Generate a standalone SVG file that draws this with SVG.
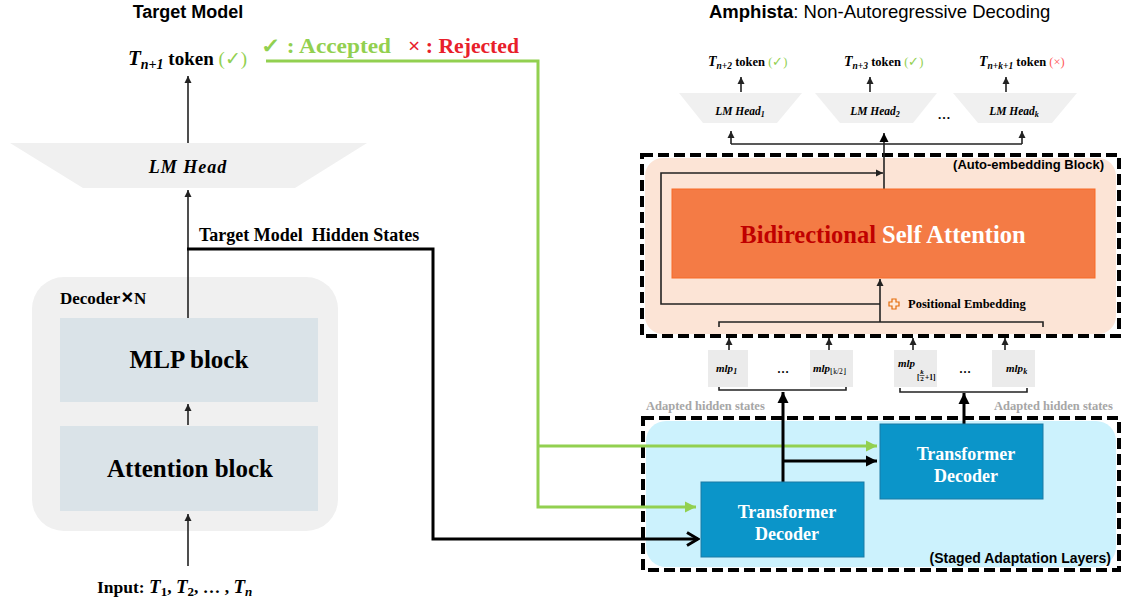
<svg xmlns="http://www.w3.org/2000/svg" width="1126" height="601" viewBox="0 0 1126 601">
<style>
  .sf{font-family:"Liberation Serif","Times New Roman",serif;font-weight:bold}
  .ss{font-family:"Liberation Sans",Arial,sans-serif}
  .it{font-style:italic}
  .thin{stroke:#222;stroke-width:1.6;fill:none}
  .thick{stroke:#000;stroke-width:3;fill:none}
  .green{stroke:#92d050;stroke-width:3;fill:none}
  .dash{fill:none;stroke:#000;stroke-width:4;stroke-dasharray:11 5}
  .head{fill:#f0f0f0}
  .mlp{fill:#ebebeb}
  .td{fill:#0b95c9;stroke:#1a7aa5;stroke-width:1}
  .tdt{fill:#fff;font-size:18px}
  .gray{fill:#a6a6a6;font-size:12.5px}
</style>
<defs>
  <marker id="aThin" markerUnits="userSpaceOnUse" markerWidth="8" markerHeight="8" refX="7" refY="4" orient="auto">
    <path d="M0,0.5 L7,4 L0,7.5 z" fill="#222"/>
  </marker>
  <marker id="aMid" markerUnits="userSpaceOnUse" markerWidth="10" markerHeight="10" refX="9" refY="5" orient="auto">
    <path d="M0,0.5 L9,5 L0,9.5 z" fill="#000"/>
  </marker>
  <marker id="aThick" markerUnits="userSpaceOnUse" markerWidth="12" markerHeight="12" refX="11" refY="6" orient="auto">
    <path d="M0,0.5 L11,6 L0,11.5 z" fill="#000"/>
  </marker>
  <marker id="aGreen" markerUnits="userSpaceOnUse" markerWidth="12" markerHeight="12" refX="11" refY="6" orient="auto">
    <path d="M0,0.5 L11,6 L0,11.5 z" fill="#92d050"/>
  </marker>
  <marker id="aChevron" markerUnits="userSpaceOnUse" markerWidth="14" markerHeight="16" refX="12" refY="8" orient="auto">
    <path d="M1,1.5 L12,8 L1,14.5" fill="none" stroke="#000" stroke-width="3"/>
  </marker>
</defs>
<rect width="1126" height="601" fill="#fff"/>

<!-- titles -->
<text class="ss" x="188" y="18" font-size="18" font-weight="bold" text-anchor="middle">Target Model</text>
<text class="ss" x="709" y="18" font-size="18.5"><tspan font-weight="bold">Amphista</tspan>: Non-Autoregressive Decoding</text>
<text class="sf" x="261" y="53" font-size="21" fill="#92d050" textLength="130" lengthAdjust="spacingAndGlyphs">✓ : Accepted</text>
<text class="sf" x="408" y="53" font-size="21" fill="#e8202a" textLength="111" lengthAdjust="spacingAndGlyphs">× : Rejected</text>

<!-- containers -->
<g id="decoder-stack">
  <rect x="32" y="277" width="306" height="254" rx="32" fill="#f0f0f0"/>
  <text class="sf" x="60" y="304" font-size="17">Decoder<tspan class="ss" font-size="20" dx="1">×</tspan><tspan dx="1">N</tspan></text>
</g>
<g id="auto-embedding-block">
  <rect x="645" y="158" width="471" height="176" rx="18" fill="#fce4d6"/>
  <rect class="dash" x="642" y="155" width="477" height="181"/>
  <text class="ss" x="1104" y="169" font-size="13" font-weight="bold" text-anchor="end">(Auto-embedding Block)</text>
</g>
<g id="staged-adaptation-layers">
  <rect x="646" y="421" width="470" height="146" rx="20" fill="#ccf2fd"/>
  <rect class="dash" x="643" y="418" width="476" height="152"/>
  <text class="ss" x="1111" y="563" font-size="14" font-weight="bold" text-anchor="end">(Staged Adaptation Layers)</text>
</g>

<!-- connectors -->
<g id="connectors">
  <path class="thin" d="M188,566 V514" marker-end="url(#aThin)"/>
  <path class="thin" d="M188,425 V404" marker-end="url(#aThin)"/>
  <path class="thin" d="M188,318 V190" marker-end="url(#aThin)"/>
  <path class="thin" d="M188,143 V76" marker-end="url(#aThin)"/>
  <path class="thick" d="M187,249 H433 V539 H698" marker-end="url(#aChevron)"/>
  <path class="green" d="M266,61 H538 V507 H696" marker-end="url(#aGreen)"/>
  <path class="green" d="M538,446 H877" marker-end="url(#aGreen)"/>
  <path class="thick" d="M783,482 V392" marker-end="url(#aThick)"/>
  <path class="thick" d="M783,461 H877" marker-end="url(#aThick)"/>
  <path class="thick" d="M964,424 V393" marker-end="url(#aThick)"/>
  <path class="thin" d="M719,386 V390 H846 V386"/>
  <path class="thin" d="M900,388 V392 H1027 V388"/>
  <path class="thin" d="M729,350 V338" marker-end="url(#aThin)"/>
  <path class="thin" d="M829,350 V338" marker-end="url(#aThin)"/>
  <path class="thin" d="M913,350 V338" marker-end="url(#aThin)"/>
  <path class="thin" d="M1005,350 V338" marker-end="url(#aThin)"/>
  <path class="thin" d="M719,327 V322 H1043 V327"/>
  <path class="thin" d="M880,322 V279" marker-end="url(#aThin)"/>
  <path class="thin" d="M880,304 H661 V173 H883" marker-end="url(#aThin)"/>
  <path class="thin" d="M884,189 V133" stroke-width="2" marker-end="url(#aMid)"/>
  <path class="thin" d="M731,144 H1022"/>
  <path class="thin" d="M731,144 V131" marker-end="url(#aThin)"/>
  <path class="thin" d="M1022,144 V131" marker-end="url(#aThin)"/>
  <path class="thin" d="M741,92 V77" marker-end="url(#aThin)"/>
  <path class="thin" d="M870,92 V77" marker-end="url(#aThin)"/>
  <path class="thin" d="M1006,92 V77" marker-end="url(#aThin)"/>
</g>

<!-- target model column -->
<g id="target-token">
  <text class="sf" x="128" y="65" font-size="19"><tspan class="it" font-size="21">T</tspan><tspan class="it" font-size="14" dy="4">n+1</tspan><tspan dy="-4"> token </tspan><tspan fill="#92d050" font-weight="normal">(✓)</tspan></text>
</g>
<g id="lm-head">
  <polygon class="head" points="10,143 367,143 295,188 83,188"/>
  <text class="sf it" x="188" y="173" font-size="18" text-anchor="middle" letter-spacing="1">LM Head</text>
</g>
<text class="sf" x="199" y="241" font-size="18" xml:space="preserve">Target Model  Hidden States</text>
<g id="mlp-block">
  <rect x="60" y="318" width="258" height="84" fill="#dae3e8"/>
  <text class="sf" x="189" y="368" font-size="25" text-anchor="middle">MLP block</text>
</g>
<g id="attention-block">
  <rect x="60" y="426" width="258" height="85" fill="#dae3e8"/>
  <text class="sf" x="190" y="477" font-size="25" text-anchor="middle">Attention block</text>
</g>
<g id="input">
  <text class="sf" x="97" y="593" font-size="17.5">Input: <tspan class="it" font-size="19">T</tspan><tspan font-size="13" dy="3">1</tspan><tspan dy="-3">, </tspan><tspan class="it" font-size="19">T</tspan><tspan font-size="13" dy="3">2</tspan><tspan dy="-3">, … , </tspan><tspan class="it" font-size="19">T</tspan><tspan class="it" font-size="13" dy="3">n</tspan></text>
</g>

<!-- draft heads -->
<g id="token-2">
  <text class="sf" x="708" y="66" font-size="12.5"><tspan class="it" font-size="14">T</tspan><tspan class="it" font-size="9.5" dy="3">n+2</tspan><tspan dy="-3"> token </tspan><tspan fill="#92d050" font-weight="normal">(✓)</tspan></text>
</g>
<g id="token-3">
  <text class="sf" x="844" y="66" font-size="12.5"><tspan class="it" font-size="14">T</tspan><tspan class="it" font-size="9.5" dy="3">n+3</tspan><tspan dy="-3"> token </tspan><tspan fill="#92d050" font-weight="normal">(✓)</tspan></text>
</g>
<g id="token-k">
  <text class="sf" x="979" y="66" font-size="12.5"><tspan class="it" font-size="14">T</tspan><tspan class="it" font-size="9.5" dy="3">n+k+1</tspan><tspan dy="-3"> token </tspan><tspan fill="#ff5a5a" font-weight="normal">(×)</tspan></text>
</g>
<g id="lm-head-1">
  <polygon class="head" points="679,93 802,93 777,123 703,123"/>
  <text class="sf it" x="740" y="115" font-size="11.5" text-anchor="middle">LM Head<tspan font-size="8" dy="2">1</tspan></text>
</g>
<g id="lm-head-2">
  <polygon class="head" points="815,93 937,93 913,123 840,123"/>
  <text class="sf it" x="875" y="115" font-size="11.5" text-anchor="middle">LM Head<tspan font-size="8" dy="2">2</tspan></text>
</g>
<text class="sf" x="944" y="119" font-size="13" text-anchor="middle">…</text>
<g id="lm-head-k">
  <polygon class="head" points="953,93 1077,93 1052,123 978,123"/>
  <text class="sf it" x="1014" y="115" font-size="11.5" text-anchor="middle">LM Head<tspan font-size="8" dy="2">k</tspan></text>
</g>

<!-- auto-embedding internals -->
<g id="self-attention">
  <rect x="672" y="189" width="423" height="89" fill="#f47b45" stroke="#f86a26" stroke-width="1"/>
  <text class="sf" x="883" y="243" font-size="24.5" text-anchor="middle"><tspan fill="#c00000">Bidirectional</tspan><tspan fill="#fff"> Self Attention</tspan></text>
</g>
<g id="positional-embedding">
  <polygon points="892,299 896,299 896,302 899,302 899,306 896,306 896,309 892,309 892,306 889,306 889,302 892,302" fill="#fde9d9" stroke="#e46c0a" stroke-width="1.2"/>
  <text class="sf" x="908" y="308" font-size="12.5">Positional Embedding</text>
</g>

<!-- adapter mlps -->
<g id="mlp-1">
  <rect class="mlp" x="708" y="350" width="40" height="37"/>
  <text class="sf it" x="716" y="372" font-size="11">mlp<tspan font-size="8" dy="2">1</tspan></text>
</g>
<text class="sf" x="783" y="373" font-size="12" font-weight="normal" text-anchor="middle">…</text>
<g id="mlp-half">
  <rect class="mlp" x="810" y="350" width="43" height="37"/>
  <text class="sf it" x="813" y="372" font-size="11">mlp<tspan font-size="7.5" font-style="normal" font-weight="normal" dy="2">⌊k/2⌋</tspan></text>
</g>
<g id="mlp-half-next">
  <rect class="mlp" x="894" y="350" width="43" height="37"/>
  <text class="sf it" x="898" y="367" font-size="11">mlp</text>
  <text class="sf" x="917" y="380" font-size="7.5" font-weight="normal">[</text>
  <text class="sf it" x="922" y="374" font-size="7" text-anchor="middle">k</text>
  <line x1="919.5" y1="375.5" x2="924.5" y2="375.5" stroke="#000" stroke-width="0.6"/>
  <text class="sf" x="922" y="381" font-size="7" text-anchor="middle">2</text>
  <text class="sf" x="925" y="380" font-size="7.5" font-weight="normal">+1]</text>
</g>
<text class="sf" x="965" y="373" font-size="12" font-weight="normal" text-anchor="middle">…</text>
<g id="mlp-k">
  <rect class="mlp" x="992" y="350" width="43" height="37"/>
  <text class="sf it" x="1006" y="372" font-size="11">mlp<tspan font-size="8" dy="2">k</tspan></text>
</g>
<text class="sf gray" x="646" y="410">Adapted hidden states</text>
<text class="sf gray" x="994" y="410">Adapted hidden states</text>

<!-- staged decoders -->
<g id="transformer-decoder-1">
  <rect class="td" x="701" y="482" width="163" height="75"/>
  <text class="sf tdt" x="787" y="518" text-anchor="middle">Transformer</text>
  <text class="sf tdt" x="787" y="540" text-anchor="middle">Decoder</text>
</g>
<g id="transformer-decoder-2">
  <rect class="td" x="880" y="424" width="163" height="75"/>
  <text class="sf tdt" x="966" y="460" text-anchor="middle">Transformer</text>
  <text class="sf tdt" x="966" y="482" text-anchor="middle">Decoder</text>
</g>
</svg>
